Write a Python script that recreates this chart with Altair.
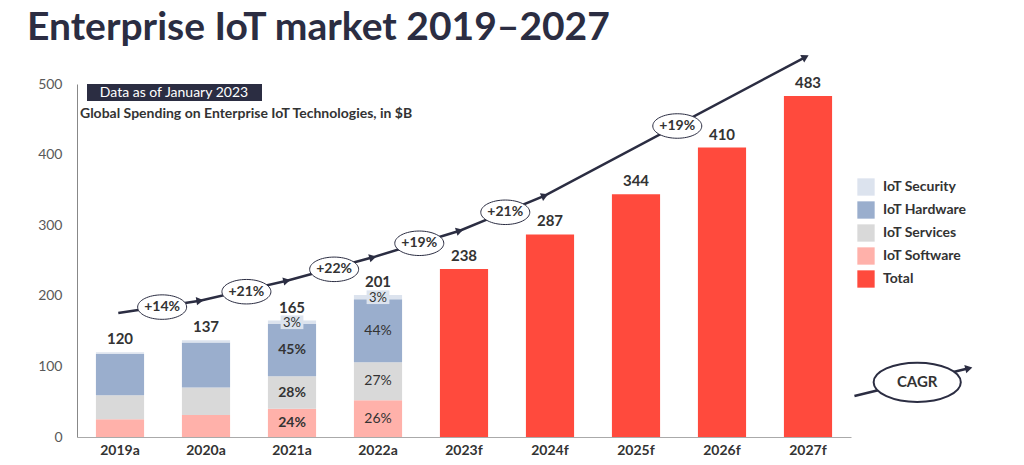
import altair as alt
import pandas as pd

# ---------------- data ----------------
years = ["2019a", "2020a", "2021a", "2022a", "2023f", "2024f", "2025f", "2026f", "2027f"]
totals = [120, 137, 165, 201, 238, 287, 344, 410, 483]

# actual-year breakdown (in $B)
actual_years = ["2019a", "2020a", "2021a", "2022a"]
software = [25, 31, 40, 52]
services = [34, 39, 46, 54]
hardware = [59, 64, 74, 89]
security = [2, 3, 5, 6]

forecast_years = ["2023f", "2024f", "2025f", "2026f", "2027f"]
forecast_totals = [238, 287, 344, 410, 483]

# percent labels shown in 2021a / 2022a
pct_years = ["2021a", "2021a", "2021a", "2021a", "2022a", "2022a", "2022a", "2022a"]
pct_series = ["IoT Software", "IoT Services", "IoT Hardware", "IoT Security"] * 2
pct_text = ["24%", "28%", "45%", "3%", "26%", "27%", "44%", "3%"]

# CAGR arrow path (x in category units: category i centre = i + 0.5; y in $B)
cagr_x = [0.48, 1.43, 2.44, 3.44, 4.45, 5.44, 8.47]
cagr_y = [175.6, 193.1, 221.4, 254.5, 292.2, 341.8, 538.2]
cagr_labels = ["+14%", "+21%", "+22%", "+19%", "+21%", "+19%"]
cagr_lx = [0.99, 1.97, 2.99, 3.98, 4.98, 6.98]
cagr_ly = [184.0, 205.8, 237.5, 274.4, 318.3, 440.5]

# legend-style "CAGR" key
key_x = [9.04, 10.37]
key_y = [58.1, 97.3]
key_lx = [9.77]
key_ly = [77.5]

series_order = ["IoT Security", "IoT Hardware", "IoT Services", "IoT Software", "Total"]
series_colors = ["#dce3ee", "#9aaecd", "#d9d9d9", "#ffb1aa", "#ff4a3d"]
stack_rank = {"IoT Software": 0, "IoT Services": 1, "IoT Hardware": 2, "IoT Security": 3, "Total": 0}

# ---------------- tables ----------------
rows = []
for i, y in enumerate(actual_years):
    for s, vals in [("IoT Software", software), ("IoT Services", services),
                    ("IoT Hardware", hardware), ("IoT Security", security)]:
        rows.append({"year": y, "series": s, "value": vals[i]})
for y, v in zip(forecast_years, forecast_totals):
    rows.append({"year": y, "series": "Total", "value": v})
bars_df = pd.DataFrame(rows)
bars_df["rank"] = bars_df["series"].map(stack_rank)

# midpoints for percent labels
lab_rows = []
for y, s, t in zip(pct_years, pct_series, pct_text):
    i = actual_years.index(y)
    comps = {"IoT Software": software[i], "IoT Services": services[i],
             "IoT Hardware": hardware[i], "IoT Security": security[i]}
    base = 0
    for name in ["IoT Software", "IoT Services", "IoT Hardware", "IoT Security"]:
        if name == s:
            mid = base + comps[name] / 2
            break
        base += comps[name]
    lab_rows.append({"year": y, "series": s, "text": t, "mid": mid,
                     "bold": "bold" if y == "2021a" else "normal"})
pct_df = pd.DataFrame(lab_rows)
sec_df = pct_df[pct_df["series"] == "IoT Security"]
body_df = pct_df[pct_df["series"] != "IoT Security"]

tot_df = pd.DataFrame({"year": years, "total": totals})

line_df = pd.DataFrame({"x": cagr_x, "y": cagr_y, "o": list(range(len(cagr_x)))})
arrow_angles = [351.5, 347, 344.9, 342.9, 337.8, 332]
arrow_df = pd.DataFrame({"x": cagr_x[1:], "y": cagr_y[1:], "ang": arrow_angles})
ell_df = pd.DataFrame({"x": cagr_lx, "y": cagr_ly, "t": cagr_labels})

key_df = pd.DataFrame({"x": key_x, "y": key_y, "o": [0, 1]})
key_arrow_df = pd.DataFrame({"x": key_x[1:], "y": key_y[1:], "ang": [346.5]})
key_ell_df = pd.DataFrame({"x": key_lx, "y": key_ly, "t": ["CAGR"]})

FONT = "Lato"
DARK = "#2b2d42"
TXT = "#333333"

W, H = 774, 353

xband = alt.X("year:N", sort=years, title=None,
              scale=alt.Scale(paddingInner=0.44),
              axis=alt.Axis(labelFontWeight="bold", labelFontSize=14, labelColor=TXT,
                            labelFont=FONT, ticks=False, domainColor="#aaaaaa",
                            labelAngle=0, labelPadding=6))
yscale = alt.Scale(domain=[0, 500], nice=False)
yq = alt.Y("value:Q", stack="zero", scale=yscale, title=None,
           axis=alt.Axis(values=[0, 100, 200, 300, 400, 500], grid=False, ticks=False,
                         labelFontSize=14, labelColor="#595959", labelFont=FONT,
                         domainColor="#888888", labelPadding=15))

bars = alt.Chart(bars_df).mark_bar().encode(
    x=xband,
    y=yq,
    color=alt.Color("series:N", scale=alt.Scale(domain=series_order, range=series_colors),
                    legend=alt.Legend(title=None, orient="none", legendX=W + 6, legendY=94,
                                      symbolType="square", symbolSize=300,
                                      symbolStrokeWidth=0, labelFontSize=14,
                                      labelFontWeight="bold", labelColor=TXT,
                                      labelFont=FONT, rowPadding=5, labelOffset=8)),
    order=alt.Order("rank:Q", sort="ascending"),
)

tot_text = alt.Chart(tot_df).mark_text(
    dy=-5, baseline="bottom", fontSize=15, fontWeight="bold", color=TXT, font=FONT
).encode(x=alt.X("year:N", sort=years), y=alt.Y("total:Q", scale=yscale), text="total:Q")

sec_bg = alt.Chart(sec_df).mark_point(
    shape="M-1,-0.6 L1,-0.6 L1,0.6 L-1,0.6 Z", filled=True, opacity=1,
    color="#dce3ee", size=520
).encode(x=alt.X("year:N", sort=years), y=alt.Y("mid:Q", scale=yscale))

pct_bold = alt.Chart(body_df[body_df["bold"] == "bold"]).mark_text(
    fontSize=14, fontWeight="bold", color=TXT, font=FONT
).encode(x=alt.X("year:N", sort=years), y=alt.Y("mid:Q", scale=yscale), text="text:N")

pct_norm = alt.Chart(body_df[body_df["bold"] == "normal"]).mark_text(
    fontSize=14, color=TXT, font=FONT
).encode(x=alt.X("year:N", sort=years), y=alt.Y("mid:Q", scale=yscale), text="text:N")

pct_sec = alt.Chart(sec_df).mark_text(
    fontSize=13, color=TXT, font=FONT, dy=1
).encode(x=alt.X("year:N", sort=years), y=alt.Y("mid:Q", scale=yscale), text="text:N")

bar_layer = alt.layer(bars, sec_bg, pct_bold, pct_norm, pct_sec, tot_text)

xlin = alt.Scale(domain=[0, 9], nice=False, zero=False)
ELL = "M-1,0 C-1,-0.276 -0.552,-0.5 0,-0.5 C0.552,-0.5 1,-0.276 1,0 C1,0.276 0.552,0.5 0,0.5 C-0.552,0.5 -1,0.276 -1,0 Z"
ELL2 = "M-1,0 C-1,-0.248 -0.552,-0.45 0,-0.45 C0.552,-0.45 1,-0.248 1,0 C1,0.248 0.552,0.45 0,0.45 C-0.552,0.45 -1,0.248 -1,0 Z"


def xl(f):
    return alt.X(f"{f}:Q", scale=xlin, axis=None)


def yl(f):
    return alt.Y(f"{f}:Q", scale=yscale)


line = alt.Chart(line_df).mark_line(color=DARK, strokeWidth=2.5).encode(
    x=xl("x"), y=yl("y"), order="o:Q")
arrows = alt.Chart(arrow_df).mark_point(
    shape="triangle-right", filled=True, color=DARK, size=70, opacity=1
).encode(x=xl("x"), y=yl("y"), angle=alt.Angle("ang:Q", scale=None))
ell = alt.Chart(ell_df).mark_point(
    shape=ELL, filled=False, fill="white", fillOpacity=1, stroke=DARK, strokeWidth=1,
    opacity=1, size=2400
).encode(x=xl("x"), y=yl("y"))
ell_txt = alt.Chart(ell_df).mark_text(
    fontSize=14, fontWeight="bold", color=TXT, font=FONT
).encode(x=xl("x"), y=yl("y"), text="t:N")

kline = alt.Chart(key_df).mark_line(color=DARK, strokeWidth=2.5).encode(
    x=xl("x"), y=yl("y"), order="o:Q")
karrow = alt.Chart(key_arrow_df).mark_point(
    shape="triangle-right", filled=True, color=DARK, size=70, opacity=1
).encode(x=xl("x"), y=yl("y"), angle=alt.Angle("ang:Q", scale=None))
kell = alt.Chart(key_ell_df).mark_point(
    shape=ELL2, filled=False, fill="white", fillOpacity=1, stroke=DARK, strokeWidth=2,
    opacity=1, size=7600
).encode(x=xl("x"), y=yl("y"))
ktxt = alt.Chart(key_ell_df).mark_text(
    fontSize=15, fontWeight="bold", color=TXT, font=FONT
).encode(x=xl("x"), y=yl("y"), text="t:N")

anno_layer = alt.layer(line, arrows, ell, ell_txt, kline, karrow, kell, ktxt)

# header annotations
box = alt.Chart(pd.DataFrame({"a": [0]})).mark_rect(color="#2b2d42").encode(
    x=alt.value(10), x2=alt.value(185), y=alt.value(0), y2=alt.value(17))
box_txt = alt.Chart(pd.DataFrame({"t": ["Data as of January 2023"]})).mark_text(
    color="white", fontSize=14, font=FONT, align="center", baseline="middle"
).encode(x=alt.value(97), y=alt.value(9), text="t:N")
sub_txt = alt.Chart(pd.DataFrame({"t": ["Global Spending on Enterprise IoT Technologies, in $B"]})).mark_text(
    color=TXT, fontSize=14, fontWeight="bold", font=FONT, align="left", baseline="middle"
).encode(x=alt.value(3), y=alt.value(30), text="t:N")

chart = alt.layer(bar_layer, anno_layer, box, box_txt, sub_txt).resolve_scale(
    x="independent"
).properties(
    width=W, height=H,
    title=alt.TitleParams("Enterprise IoT market 2019–2027", anchor="start", frame="group",
                          fontSize=39, font=FONT, fontWeight="bold", color=DARK,
                          dx=-50, offset=4),
    autosize=alt.AutoSizeParams(type="none"),
    padding={"left": 77, "top": 84, "right": 173, "bottom": 28},
).configure_view(stroke=None).configure_axis(labelFont=FONT)

chart.save("out.html", embed_options={"renderer": "svg", "actions": False})
